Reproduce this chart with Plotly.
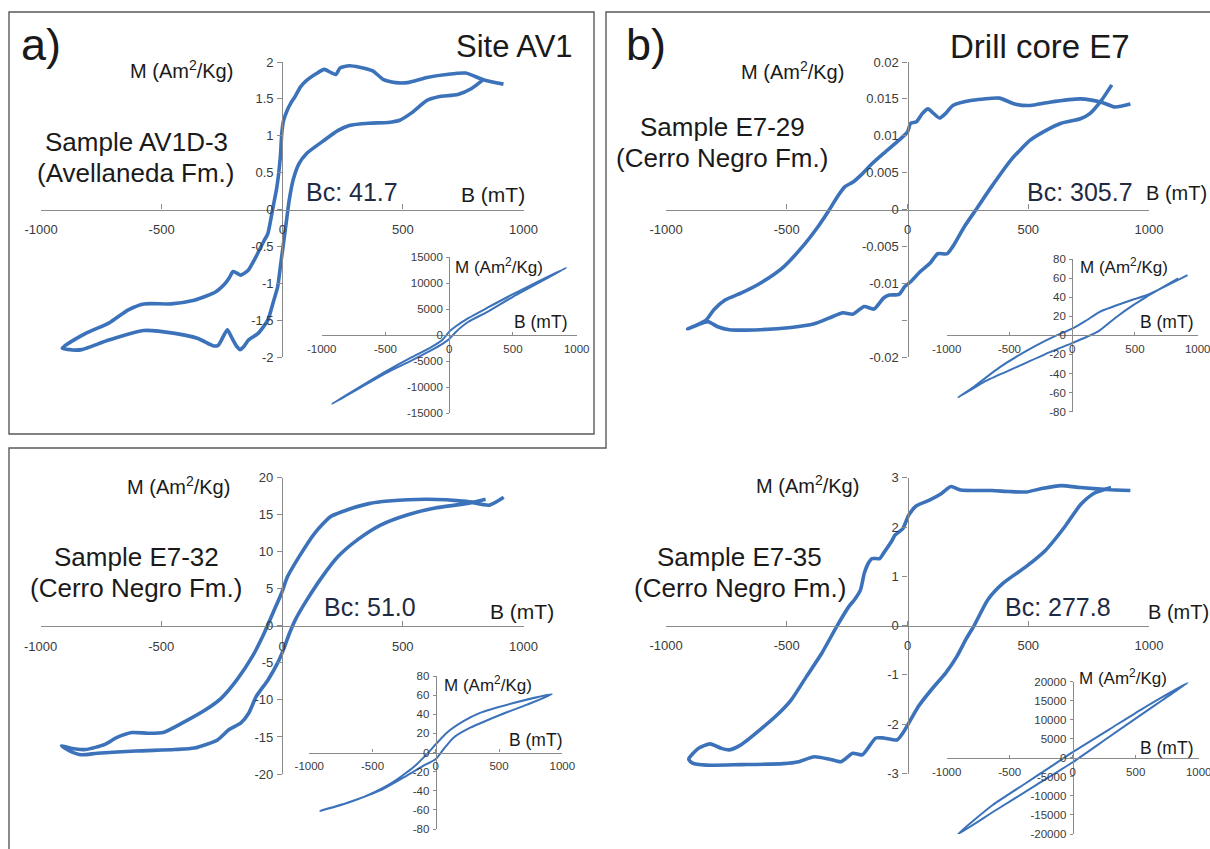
import plotly.graph_objects as go

# ---------------- DATA ----------------
# Panel a: Sample AV1D-3 (main loop)
a_desc_B = [917, 833, 760, 680, 600, 519, 470, 420, 375, 320, 278, 240, 222, 200, 174, 140, 101, 75, 53, 35, 21, 5, -2, -8, -22, -40, -60, -75, -95, -115, -140, -160, -172, -190, -204, -220, -236, -277, -320, -365, -461, -574, -638, -719, -815, -912]
a_desc_M = [1.70, 1.76, 1.85, 1.83, 1.79, 1.72, 1.72, 1.76, 1.88, 1.93, 1.95, 1.92, 1.83, 1.86, 1.90, 1.84, 1.75, 1.66, 1.53, 1.44, 1.35, 1.20, 1.03, 0.71, 0.31, 0.0, -0.33, -0.42, -0.55, -0.68, -0.82, -0.87, -0.89, -0.86, -0.84, -0.93, -1.0, -1.12, -1.18, -1.23, -1.28, -1.28, -1.36, -1.54, -1.68, -1.88]
a_asc_B = [-912, -870, -831, -719, -574, -445, -349, -285, -265, -252, -228, -215, -204, -188, -175, -160, -140, -100, -60, -35, -19, -8, 5, 18, 29, 45, 69, 101, 166, 230, 278, 359, 439, 487, 536, 600, 648, 728, 785, 833]
a_asc_M = [-1.88, -1.905, -1.90, -1.77, -1.64, -1.68, -1.75, -1.85, -1.84, -1.77, -1.63, -1.70, -1.77, -1.86, -1.90, -1.86, -1.77, -1.68, -1.50, -1.23, -1.05, -0.78, -0.46, -0.14, 0.13, 0.40, 0.62, 0.76, 0.92, 1.07, 1.14, 1.17, 1.18, 1.21, 1.31, 1.48, 1.53, 1.56, 1.64, 1.76]

# Panel b: Sample E7-29
b_desc_B = [923, 859, 803, 716, 588, 508, 444, 380, 268, 188, 157, 133, 109, 85, 61, 37, 13, 0, -35, -99, -147, -195, -227, -259, -291, -323, -370, -434, -514, -610, -690, -754, -802, -834, -882, -910]
b_desc_M = [0.0143, 0.0139, 0.01455, 0.0150, 0.01455, 0.0141, 0.0143, 0.0151, 0.0148, 0.0141, 0.0130, 0.0124, 0.0130, 0.01365, 0.0130, 0.0119, 0.0117, 0.0105, 0.0094, 0.0076, 0.0062, 0.0046, 0.0037, 0.0031, 0.0017, 0.0, -0.0023, -0.0050, -0.0078, -0.0100, -0.01135, -0.01225, -0.0136, -0.0150, -0.0158, -0.0162]
b_asc_B = [-910, -866, -826, -786, -738, -610, -482, -386, -323, -267, -227, -179, -139, -99, -75, -35, -11, 13, 53, 93, 125, 164, 188, 236, 284, 348, 428, 508, 572, 636, 716, 755, 803, 846]
b_asc_M = [-0.0162, -0.0156, -0.0152, -0.0159, -0.0163, -0.0163, -0.0160, -0.0155, -0.0147, -0.0140, -0.0142, -0.01315, -0.0135, -0.0120, -0.0116, -0.0115, -0.01045, -0.0098, -0.0084, -0.0073, -0.0060, -0.0060, -0.0050, -0.0023, 0.0, 0.0031, 0.0067, 0.0094, 0.0107, 0.0117, 0.0123, 0.0130, 0.0148, 0.0169]

# Panel c: Sample E7-32
c_desc_B = [918, 859, 762, 601, 441, 360, 248, 199, 135, 71, 23, -2, -26, -50, -74, -122, -187, -251, -315, -412, -492, -556, -621, -685, -733, -814, -878, -913]
c_desc_M = [17.35, 16.3, 16.8, 17.1, 16.85, 16.5, 15.4, 14.7, 12.5, 9.35, 6.65, 4.4, 2.6, 0.8, -1.0, -4.1, -7.3, -9.75, -11.3, -13.1, -14.4, -14.5, -14.4, -15.1, -16.0, -16.7, -16.5, -16.2]
c_asc_B = [-913, -878, -830, -765, -605, -444, -363, -267, -219, -170, -138, -106, -58, -18, 6, 31, 55, 103, 167, 232, 312, 408, 521, 634, 762, 843]
c_asc_M = [-16.2, -16.9, -17.4, -17.2, -16.9, -16.7, -16.5, -15.4, -14.0, -13.1, -11.8, -9.5, -7.3, -5.0, -3.2, -1.0, 0.8, 3.5, 6.65, 9.35, 11.6, 13.6, 15.0, 15.9, 16.5, 17.1]

# Panel d: Sample E7-35
d_desc_B = [923, 827, 716, 636, 556, 492, 420, 348, 220, 180, 141, 93, 37, 5, -19, -51, -67, -99, -115, -147, -163, -179, -195, -219, -243, -291, -355, -418, -482, -546, -610, -690, -738, -770, -818, -866, -906]
d_desc_M = [2.74, 2.76, 2.80, 2.84, 2.78, 2.71, 2.72, 2.74, 2.75, 2.82, 2.68, 2.55, 2.43, 2.24, 1.97, 1.84, 1.70, 1.47, 1.36, 1.36, 1.26, 1.06, 0.72, 0.53, 0.385, 0.0, -0.56, -1.03, -1.51, -1.84, -2.11, -2.42, -2.52, -2.49, -2.40, -2.49, -2.71]
d_asc_B = [-906, -890, -834, -690, -514, -450, -386, -323, -275, -227, -187, -131, -99, -43, -19, 5, 45, 109, 157, 204, 244, 276, 332, 396, 492, 572, 652, 716, 771, 843]
d_asc_M = [-2.71, -2.79, -2.83, -2.82, -2.80, -2.76, -2.66, -2.71, -2.76, -2.59, -2.62, -2.28, -2.28, -2.32, -2.18, -1.98, -1.64, -1.24, -0.97, -0.63, -0.26, 0.0, 0.52, 0.86, 1.20, 1.53, 2.01, 2.45, 2.68, 2.80]

# Insets (total magnetisation loops)
ia_desc_B = [920, 500, 300, 150, 50, 0, -50, -150, -300, -500, -920]
ia_desc_M = [13000, 7900, 5300, 3300, 1700, 700, -800, -2400, -4300, -7000, -13200]
ia_asc_B = [-920, -500, -300, -150, -50, 0, 50, 150, 300, 500, 920]
ia_asc_M = [-13200, -7300, -4900, -3000, -1600, -700, 600, 2600, 4500, 7400, 13000]

ib_desc_B = [919, 592, 486, 220, 114, 0, -125, -311, -576, -789, -908]
ib_desc_M = [63.2, 42, 37.5, 24.6, 15.8, 7.0, 0, -12.3, -33.3, -54.4, -64.9]
ib_asc_B = [-908, -683, -444, -178, 0, 114, 220, 353, 486, 592, 845]
ib_asc_M = [-64.9, -47.4, -33.3, -17.5, -8.1, -1.75, 5.3, 19.3, 31.6, 40.4, 59.6]

ic_desc_B = [917, 614, 350, 219, 87, 0, -71, -177, -361, -572, -756, -914]
ic_desc_M = [61, 51.7, 41.4, 32.8, 20.7, 8.6, -1.7, -15.5, -32.8, -46.6, -55.2, -61]
ic_asc_B = [-914, -704, -440, -229, -97, 0, 61, 140, 272, 483, 720, 917]
ic_asc_M = [-61, -52.8, -39.7, -24.1, -13.8, -6.9, 3.4, 15.5, 25.9, 37.9, 50, 61]

id_desc_B = [913, 556, 291, 0, -185, -370, -635, -913]
id_desc_M = [19700, 12950, 7490, 1500, -2550, -6600, -12400, -20100]
id_asc_B = [-913, -608, -291, 0, 291, 556, 714, 913]
id_asc_M = [-20100, -13700, -7180, -1150, 5550, 11600, 15200, 19700]

# Tick values / labels
B_TICKS = [-1000, -500, 0, 500, 1000]
A_Y_TICKS = [-2, -1.5, -1, -0.5, 0, 0.5, 1, 1.5, 2]
B_Y_TICKS = [-0.02, -0.015, -0.01, -0.005, 0, 0.005, 0.01, 0.015, 0.02]
B_Y_LABELS = ["-0.02", "", "-0.01", "-0.005", "0", "0.005", "0.01", "0.015", "0.02"]
C_Y_TICKS = [-20, -15, -10, -5, 0, 5, 10, 15, 20]
D_Y_TICKS = [-3, -2, -1, 0, 1, 2, 3]
IA_Y_TICKS = [-15000, -10000, -5000, 0, 5000, 10000, 15000]
IB_Y_TICKS = [-80, -60, -40, -20, 0, 20, 40, 60, 80]
IC_Y_TICKS = [-80, -60, -40, -20, 0, 20, 40, 60, 80]
ID_Y_TICKS = [-20000, -15000, -10000, -5000, 0, 5000, 10000, 15000, 20000]

# ---------------- FIGURE ----------------
W, H = 1210, 849
def px(x):
    return x / W
def py(y):
    return 1 - y / H
def fmt(v):
    return ("%g" % v)

FONT = "Liberation Sans, Arial, sans-serif"
BLUE = "#3b72b9"
AXC = "#8a8a8a"
TICKC = "#3a3a3a"

fig = go.Figure()

panels = [
    ("a", (41, 523.5, 62, 357), [-1000, 1000], [-2, 2], A_Y_TICKS, None, (a_desc_B, a_desc_M, a_asc_B, a_asc_M), True),
    ("b", (666, 1149, 62, 357), [-1000, 1000], [-0.02, 0.02], B_Y_TICKS, B_Y_LABELS, (b_desc_B, b_desc_M, b_asc_B, b_asc_M), True),
    ("c", (40.5, 523.5, 477.7, 774), [-1000, 1000], [-20, 20], C_Y_TICKS, None, (c_desc_B, c_desc_M, c_asc_B, c_asc_M), True),
    ("d", (666, 1149, 477.7, 773.5), [-1000, 1000], [-3, 3], D_Y_TICKS, None, (d_desc_B, d_desc_M, d_asc_B, d_asc_M), True),
    ("ia", (321.7, 576.7, 257.3, 413.3), [-1000, 1000], [-15000, 15000], IA_Y_TICKS, None, (ia_desc_B, ia_desc_M, ia_asc_B, ia_asc_M), False),
    ("ib", (946.7, 1197.7, 259, 411.7), [-1000, 1000], [-80, 80], IB_Y_TICKS, None, (ib_desc_B, ib_desc_M, ib_asc_B, ib_asc_M), False),
    ("ic", (309.3, 562.3, 676, 829), [-1000, 1000], [-80, 80], IC_Y_TICKS, None, (ic_desc_B, ic_desc_M, ic_asc_B, ic_asc_M), False),
    ("id", (946.7, 1198.7, 681.7, 834), [-1000, 1000], [-20000, 20000], ID_Y_TICKS, None, (id_desc_B, id_desc_M, id_asc_B, id_asc_M), False),
]

layout_axes = {}
for i, (name, g, xr, yr, yt, yl, data, main) in enumerate(panels):
    n = i + 1
    xa = "xaxis" if n == 1 else "xaxis%d" % n
    ya = "yaxis" if n == 1 else "yaxis%d" % n
    xref = "x" if n == 1 else "x%d" % n
    yref = "y" if n == 1 else "y%d" % n
    x0, x1, yt_px, yb_px = g
    xdom = [px(x0), px(x1)]
    ydom = [py(yb_px), py(yt_px)]
    fs = 13 if main else 11.5
    layout_axes[xa] = dict(
        domain=xdom, range=xr, anchor="free", position=(ydom[0] + ydom[1]) / 2,
        tickvals=B_TICKS, ticktext=[fmt(v) for v in B_TICKS],
        showline=True, linecolor=AXC, linewidth=1.2,
        ticks="inside", ticklen=5 if main else 3, tickcolor=AXC, tickwidth=1.2,
        showgrid=False, zeroline=False, automargin=False,
        ticklabeloverflow="allow",
        tickfont=dict(family=FONT, size=fs, color=TICKC),
        ticklabelstandoff=8 if main else 3,
        fixedrange=True,
    )
    layout_axes[ya] = dict(
        domain=ydom, range=yr, anchor="free", position=(xdom[0] + xdom[1]) / 2,
        tickvals=yt, ticktext=yl if yl is not None else [fmt(v) for v in yt],
        showline=True, linecolor=AXC, linewidth=1.2,
        ticks="outside", ticklen=5 if main else 3, tickcolor=AXC, tickwidth=1.2,
        showgrid=False, zeroline=False, automargin=False,
        ticklabeloverflow="allow",
        tickfont=dict(family=FONT, size=fs, color=TICKC),
        ticklabelstandoff=1,
        fixedrange=True,
    )
    dB, dM, aB, aM = data
    fig.add_trace(go.Scatter(
        x=list(dB) + list(aB[1:]), y=list(dM) + list(aM[1:]),
        xaxis=xref, yaxis=yref, mode="lines",
        line=dict(color=BLUE, width=3.6 if main else 2.0, shape="spline", smoothing=0.6),
        hoverinfo="skip", showlegend=False,
    ))

ann = []
def text(s, x, y, size, xanchor="center", color="#1a1a1a"):
    ann.append(dict(text=s, x=px(x), y=py(y), xref="paper", yref="paper",
                    xanchor=xanchor, yanchor="middle", showarrow=False,
                    font=dict(family=FONT, size=size, color=color)))

ML = "M (Am<sup>2</sup>/Kg)"
NAVY = "#1f2a44"
# panel a
text("a)", 19, 44, 45, "left")
text("Site AV1", 514, 47, 31)
text(ML, 235, 69, 20, "right")
text("Sample AV1D-3", 136, 142, 26)
text("(Avellaneda Fm.)", 136, 173, 26)
text("Bc: 41.7", 304, 192, 25, "left", NAVY)
text("B (mT)", 459, 195, 21, "left")
text(ML, 453, 266, 17, "left")
text("B (mT)", 512, 322, 17.5, "left")
# panel b
text("b)", 624, 44, 45, "left")
text("Drill core E7", 1040, 46, 33)
text(ML, 846, 70, 20, "right")
text("Sample E7-29", 722, 127, 26)
text("(Cerro Negro Fm.)", 722, 158, 26)
text("Bc: 305.7", 1025, 192, 25, "left", NAVY)
text("B (mT)", 1144, 193, 20, "left")
text(ML, 1078, 266, 17, "left")
text("B (mT)", 1138, 322, 17.5, "left")
# panel c
text(ML, 232, 486, 20, "right")
text("Sample E7-32", 136, 557, 26)
text("(Cerro Negro Fm.)", 136, 588, 26)
text("Bc: 51.0", 322, 607, 25, "left", NAVY)
text("B (mT)", 488, 611, 21, "left")
text(ML, 442, 684, 17, "left")
text("B (mT)", 507, 740, 17.5, "left")
# panel d
text(ML, 861, 484, 20, "right")
text("Sample E7-35", 739, 557, 26)
text("(Cerro Negro Fm.)", 740, 588, 26)
text("Bc: 277.8", 1003, 607, 25, "left", NAVY)
text("B (mT)", 1146, 612, 20, "left")
text(ML, 1077, 677, 17, "left")
text("B (mT)", 1138, 748, 17.5, "left")

shapes = [
    dict(type="rect", xref="paper", yref="paper", x0=px(9), x1=px(594), y0=py(434), y1=py(12),
         line=dict(color="#5a5a5a", width=1.4)),
    dict(type="path", xref="paper", yref="paper",
         path="M %f,%f L %f,%f L %f,%f L %f,%f L %f,%f" % (
             px(1212), py(12), px(606), py(12), px(606), py(448), px(9), py(448), px(9), py(851)),
         line=dict(color="#5a5a5a", width=1.4)),
]

fig.update_layout(
    template="none",
    width=W, height=H, autosize=False,
    margin=dict(l=0, r=0, t=0, b=0, pad=0, autoexpand=False),
    paper_bgcolor="white", plot_bgcolor="rgba(0,0,0,0)",
    showlegend=False, annotations=ann, shapes=shapes,
    font=dict(family=FONT),
)
fig.update_layout(**layout_axes)

fig.write_html(
    "out.html",
    include_plotlyjs=True,
    post_script="document.body.style.margin='0';document.body.style.padding='0';document.body.style.overflow='hidden';document.documentElement.style.overflow='hidden';",
)
